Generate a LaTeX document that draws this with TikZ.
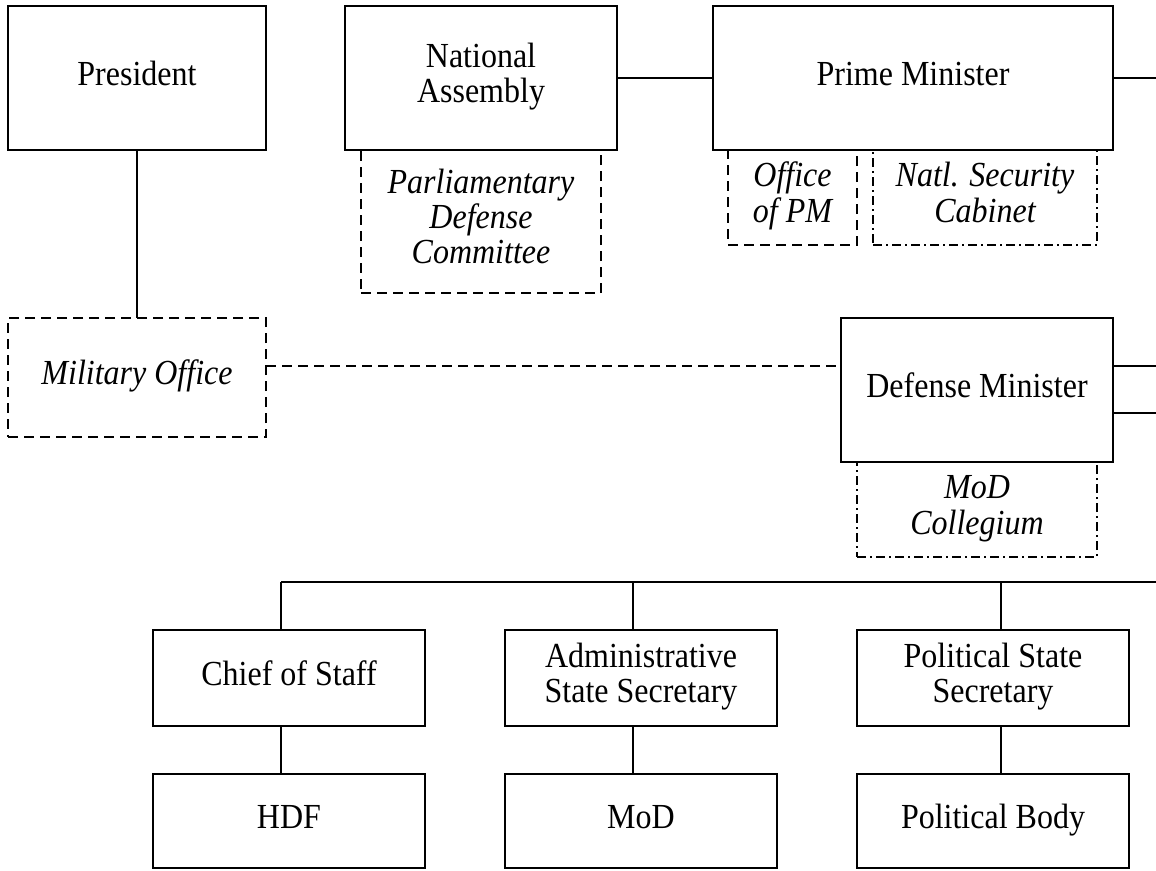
\documentclass[tikz,border=0pt]{standalone}
\usepackage{fontspec}
\setmainfont{Liberation Serif}
% label text: centred lines, set slightly tall
\newcommand\lbl[1]{\scalebox{1}[1.1]{\begin{tabular}{@{}c@{}}#1\end{tabular}}}
\begin{document}
\begin{tikzpicture}[x=1pt,y=-1pt,
  every node/.style={inner sep=0pt, outer sep=0pt,
    font=\fontsize{32}{32}\selectfont},
  unit/.style={draw, line width=1.8pt, rectangle},
  aux/.style={draw, line width=1.6pt, rectangle, dash pattern=on 10pt off 6pt,
    font=\fontsize{32}{32}\selectfont\itshape},
  council/.style={draw, line width=1.6pt, rectangle,
    dash pattern=on 9pt off 4pt on 2pt off 4pt,
    font=\fontsize{32}{32}\selectfont\itshape},
  link/.style={line width=1.8pt},
  looselink/.style={line width=1.6pt, dash pattern=on 10pt off 6pt}]
\useasboundingbox (0,0) rectangle (1156,870);

% top row
\node[unit, minimum width=258pt, minimum height=144pt] (pres) at (137,78) {\lbl{President}};
\node[unit, minimum width=272pt, minimum height=144pt] (na) at (481,78) {\lbl{National\\Assembly}};
\node[unit, minimum width=400pt, minimum height=144pt] (pm) at (913,78) {\lbl{Prime Minister}};

% bodies attached to the top row
\node[aux, minimum width=240pt, minimum height=143pt] (pdc) at (481,221.5) {\lbl{Parliamentary\\Defense\\Committee}};
\node[aux, minimum width=129pt, minimum height=95pt] (opm) at (792.5,197.5) {\lbl{Office\\of PM}};
\node[council, minimum width=224pt, minimum height=95pt] (nsc) at (985,197.5) {\lbl{Natl. Security\\Cabinet}};

% middle row
\node[aux, minimum width=258pt, minimum height=119pt] (mil) at (137,377.5) {\lbl{Military Office}};
\node[unit, minimum width=272pt, minimum height=144pt] (dm) at (977,390) {\lbl{Defense Minister}};
\node[council, minimum width=240pt, minimum height=95pt] (col) at (977,509.5) {\lbl{MoD\\Collegium}};

% subordinate units
\node[unit, minimum width=272pt, minimum height=96pt] (cos) at (289,678) {\lbl{Chief of Staff}};
\node[unit, minimum width=272pt, minimum height=96pt] (ass) at (641,678) {\lbl{Administrative\\State Secretary}};
\node[unit, minimum width=272pt, minimum height=96pt] (pss) at (993,678) {\lbl{Political State\\Secretary}};
\node[unit, minimum width=272pt, minimum height=94pt] (hdf) at (289,821) {\lbl{HDF}};
\node[unit, minimum width=272pt, minimum height=94pt] (mod) at (641,821) {\lbl{MoD}};
\node[unit, minimum width=272pt, minimum height=94pt] (pb) at (993,821) {\lbl{Political Body}};

% free ends and junctions
\coordinate (pmOut) at (1156,78);
\coordinate (dmOutA) at (1156,366);
\coordinate (dmOutB) at (1156,413);
\coordinate (busL) at (281,582);
\coordinate (busM) at (633,582);
\coordinate (busN) at (1001,582);
\coordinate (busR) at (1156,582);

% connectors
\draw[link] (pres.south) -- (mil.north);
\draw[link] (na.east) -- (pm.west);
\draw[link] (pm.east) -- (pmOut);
\draw[looselink] (mil.east |- dmOutA) -- (dm.west |- dmOutA);
\draw[link] (dm.east |- dmOutA) -- (dmOutA);
\draw[link] (dm.east |- dmOutB) -- (dmOutB);
\draw[link] (busL) -- (busR);
\draw[link] (busL) -- (busL |- cos.north);
\draw[link] (busM) -- (busM |- ass.north);
\draw[link] (busN) -- (busN |- pss.north);
\draw[link] (busL |- cos.south) -- (busL |- hdf.north);
\draw[link] (busM |- ass.south) -- (busM |- mod.north);
\draw[link] (busN |- pss.south) -- (busN |- pb.north);
\end{tikzpicture}
\end{document}
